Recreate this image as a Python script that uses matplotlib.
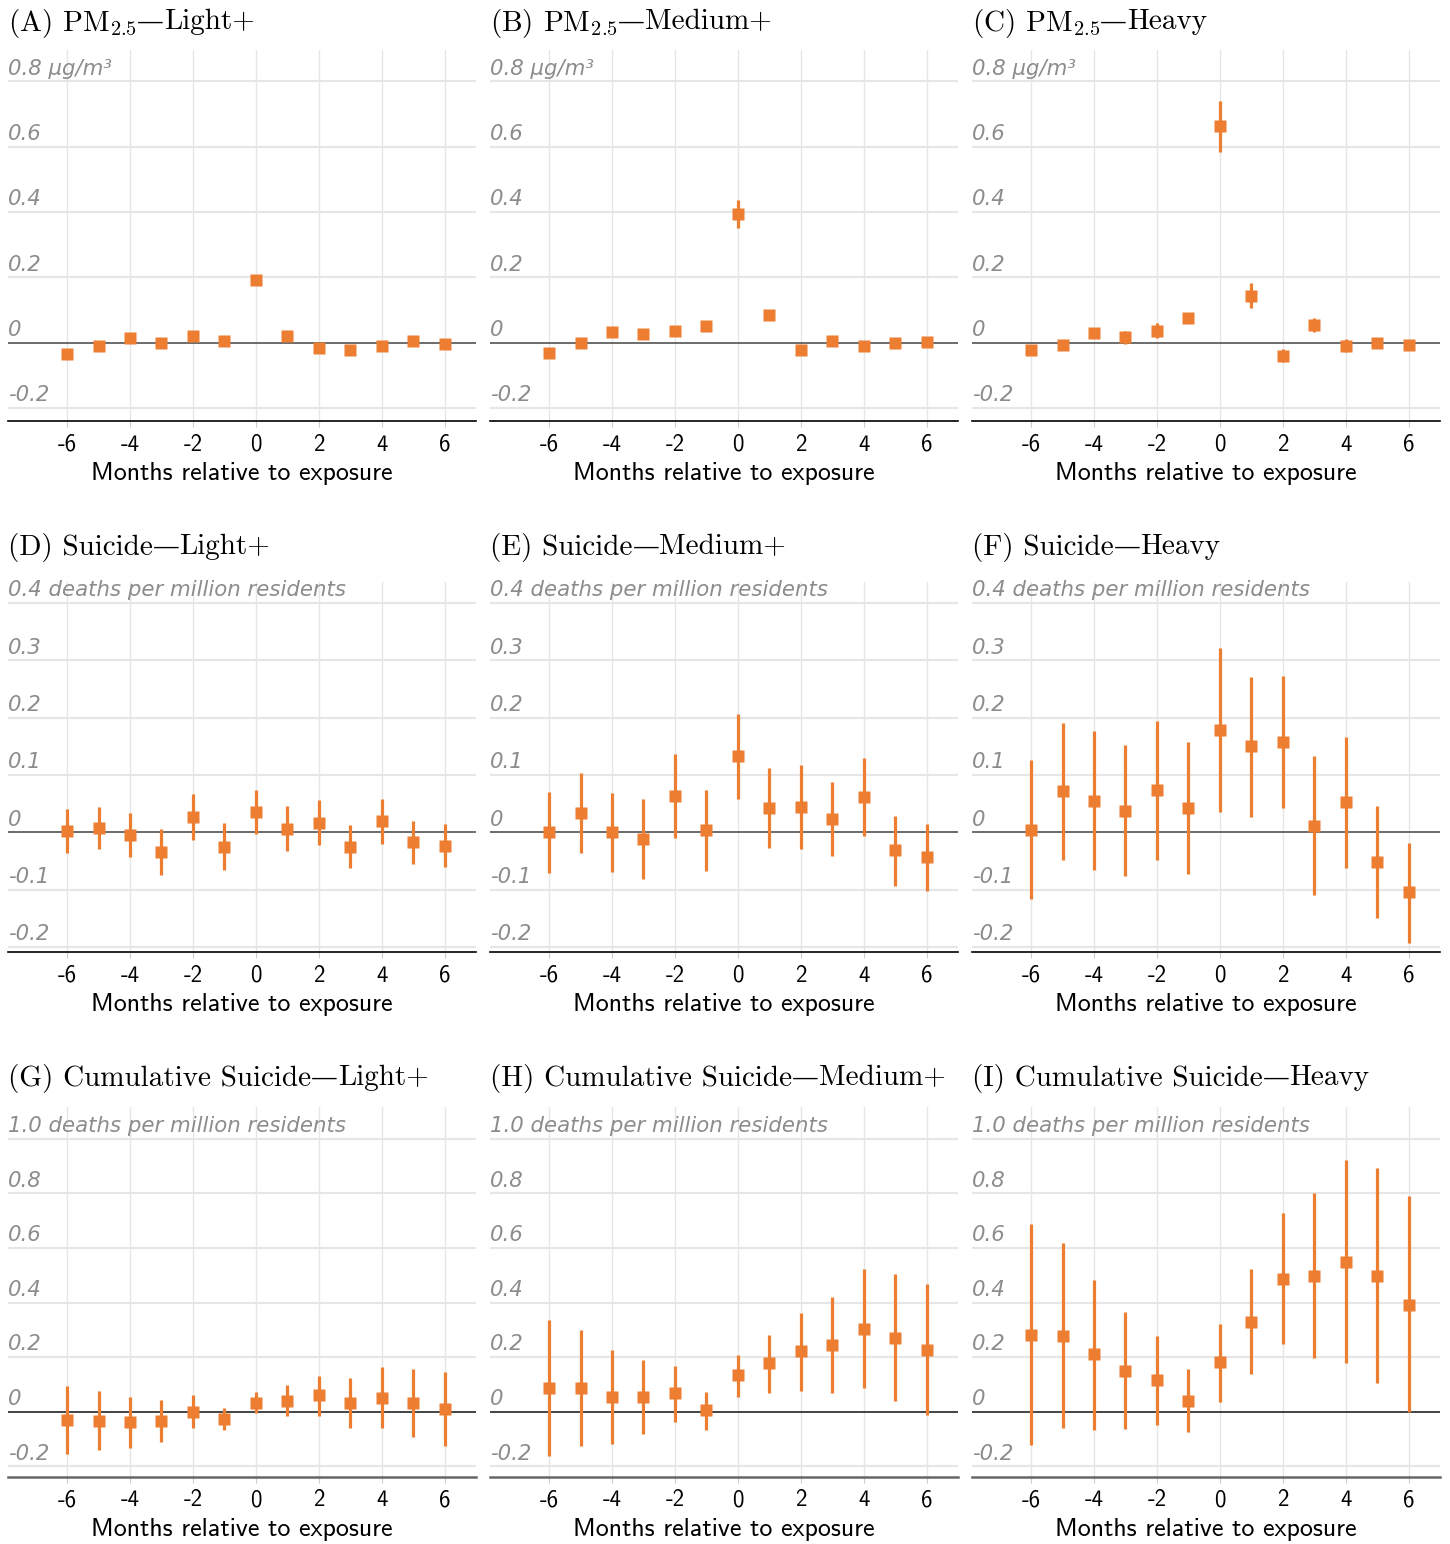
import matplotlib.pyplot as plt
import numpy as np

plt.rcParams['mathtext.fontset'] = 'cm'
plt.rcParams['axes.unicode_minus'] = False

ORANGE = '#ED7D31'
W, H = 1450, 1544

months = np.arange(-6, 7)
xticks = [-6, -4, -2, 0, 2, 4, 6]
xtick_labels = ['-6', '-4', '-2', '0', '2', '4', '6']

# PM2.5 (ug/m3)
pm_light = [-0.035, -0.010, 0.015, 0.000, 0.020, 0.005, 0.192, 0.020, -0.015, -0.022, -0.010, 0.005, -0.003]
pm_light_lo = [-0.043, -0.018, 0.007, -0.009, 0.011, -0.003, 0.181, 0.011, -0.024, -0.031, -0.019, -0.003, -0.011]
pm_light_hi = [-0.027, -0.002, 0.023, 0.009, 0.029, 0.013, 0.203, 0.029, -0.006, -0.013, -0.001, 0.013, 0.005]

pm_medium = [-0.031, -0.002, 0.031, 0.025, 0.036, 0.051, 0.395, 0.086, -0.024, 0.005, -0.010, 0.000, 0.002]
pm_medium_lo = [-0.040, -0.011, 0.022, 0.015, 0.026, 0.041, 0.352, 0.075, -0.034, -0.004, -0.019, -0.008, -0.007]
pm_medium_hi = [-0.022, 0.007, 0.040, 0.035, 0.046, 0.061, 0.436, 0.097, -0.014, 0.014, -0.001, 0.008, 0.011]

pm_heavy = [-0.024, -0.007, 0.028, 0.016, 0.037, 0.075, 0.663, 0.144, -0.041, 0.055, -0.010, 0.000, -0.007]
pm_heavy_lo = [-0.033, -0.016, 0.019, -0.004, 0.013, 0.065, 0.584, 0.105, -0.060, 0.033, -0.030, -0.009, -0.016]
pm_heavy_hi = [-0.015, 0.002, 0.037, 0.036, 0.059, 0.085, 0.741, 0.182, -0.020, 0.076, 0.010, 0.009, 0.002]

# Suicide (deaths per million residents)
su_light = [0.002, 0.008, -0.005, -0.035, 0.027, -0.026, 0.035, 0.006, 0.016, -0.026, 0.020, -0.017, -0.024]
su_light_lo = [-0.036, -0.030, -0.044, -0.075, -0.014, -0.066, -0.003, -0.033, -0.023, -0.063, -0.021, -0.055, -0.060]
su_light_hi = [0.041, 0.044, 0.033, 0.006, 0.067, 0.016, 0.074, 0.046, 0.057, 0.012, 0.059, 0.019, 0.014]

su_medium = [0.001, 0.034, 0.001, -0.012, 0.063, 0.004, 0.133, 0.042, 0.044, 0.023, 0.062, -0.031, -0.044]
su_medium_lo = [-0.071, -0.036, -0.069, -0.082, -0.010, -0.067, 0.059, -0.027, -0.029, -0.042, -0.007, -0.093, -0.103]
su_medium_hi = [0.070, 0.104, 0.069, 0.059, 0.136, 0.074, 0.207, 0.112, 0.117, 0.088, 0.130, 0.029, 0.015]

su_heavy = [0.004, 0.072, 0.055, 0.038, 0.074, 0.042, 0.179, 0.151, 0.158, 0.011, 0.053, -0.052, -0.105]
su_heavy_lo = [-0.116, -0.048, -0.066, -0.076, -0.048, -0.072, 0.035, 0.027, 0.042, -0.110, -0.063, -0.149, -0.193]
su_heavy_hi = [0.126, 0.191, 0.176, 0.153, 0.194, 0.157, 0.322, 0.272, 0.273, 0.133, 0.166, 0.046, -0.018]

# Cumulative suicide
cu_light = [-0.029, -0.032, -0.039, -0.032, 0.001, -0.026, 0.034, 0.041, 0.060, 0.034, 0.052, 0.034, 0.012]
cu_light_lo = [-0.154, -0.141, -0.133, -0.111, -0.060, -0.068, -0.005, -0.017, -0.017, -0.060, -0.061, -0.093, -0.127]
cu_light_hi = [0.095, 0.077, 0.054, 0.044, 0.061, 0.013, 0.073, 0.098, 0.132, 0.123, 0.163, 0.157, 0.145]

cu_medium = [0.089, 0.089, 0.056, 0.056, 0.068, 0.005, 0.134, 0.177, 0.221, 0.243, 0.305, 0.272, 0.228]
cu_medium_lo = [-0.161, -0.124, -0.118, -0.082, -0.038, -0.068, 0.056, 0.068, 0.077, 0.068, 0.087, 0.039, -0.011]
cu_medium_hi = [0.337, 0.300, 0.227, 0.190, 0.168, 0.073, 0.207, 0.282, 0.363, 0.420, 0.522, 0.505, 0.467]

cu_heavy = [0.283, 0.279, 0.210, 0.151, 0.115, 0.041, 0.182, 0.329, 0.487, 0.498, 0.550, 0.498, 0.393]
cu_heavy_lo = [-0.123, -0.061, -0.067, -0.062, -0.048, -0.073, 0.035, 0.138, 0.249, 0.196, 0.177, 0.104, -0.002]
cu_heavy_hi = [0.690, 0.618, 0.483, 0.366, 0.276, 0.156, 0.322, 0.522, 0.727, 0.800, 0.924, 0.895, 0.790]

# titles split around the em dash: (before, after)
titles = [
    [('(A) PM$_{2.5}$', 'Light+'), ('(B) PM$_{2.5}$', 'Medium+'), ('(C) PM$_{2.5}$', 'Heavy')],
    [('(D) Suicide', 'Light+'), ('(E) Suicide', 'Medium+'), ('(F) Suicide', 'Heavy')],
    [('(G) Cumulative Suicide', 'Light+'), ('(H) Cumulative Suicide', 'Medium+'), ('(I) Cumulative Suicide', 'Heavy')],
]
series = [
    [(pm_light, pm_light_lo, pm_light_hi), (pm_medium, pm_medium_lo, pm_medium_hi), (pm_heavy, pm_heavy_lo, pm_heavy_hi)],
    [(su_light, su_light_lo, su_light_hi), (su_medium, su_medium_lo, su_medium_hi), (su_heavy, su_heavy_lo, su_heavy_hi)],
    [(cu_light, cu_light_lo, cu_light_hi), (cu_medium, cu_medium_lo, cu_medium_hi), (cu_heavy, cu_heavy_lo, cu_heavy_hi)],
]
yticks = [
    [-0.2, 0, 0.2, 0.4, 0.6, 0.8],
    [-0.2, -0.1, 0, 0.1, 0.2, 0.3, 0.4],
    [-0.2, 0, 0.2, 0.4, 0.6, 0.8, 1.0],
]
ytick_labels = [
    ['-0.2', '0', '0.2', '0.4', '0.6', '0.8 μg/m³'],
    ['-0.2', '-0.1', '0', '0.1', '0.2', '0.3', '0.4 deaths per million residents'],
    ['-0.2', '0', '0.2', '0.4', '0.6', '0.8', '1.0 deaths per million residents'],
]
ylims = [(-0.240, 0.896), (-0.209, 0.437), (-0.239, 1.117)]

# pixel layout
col_x = [(8, 476), (490, 958), (972, 1440)]
row_y = [(50, 421), (582, 952), (1107, 1477)]
title_y = [19, 544, 1075]
TITLE_SIZE = 21

fig = plt.figure(figsize=(W / 100, H / 100), dpi=100)
renderer = fig.canvas.get_renderer()

for r in range(3):
    for c in range(3):
        x0, x1 = col_x[c]
        y0, y1 = row_y[r]
        ax = fig.add_axes([x0 / W, 1 - y1 / H, (x1 - x0) / W, (y1 - y0) / H])
        est, lo, hi = series[r][c]

        ax.set_xlim(-7.88, 7.0)
        ax.set_ylim(*ylims[r])

        # grid
        for xt in xticks:
            ax.axvline(xt, color='#e6e6e6', lw=1.0, zorder=0)
        for yt in yticks[r]:
            if yt != 0:
                ax.axhline(yt, color='#e6e6e6', lw=1.5, zorder=0)
        ax.axhline(0, color='#444444' if r < 2 else '#111111', lw=1.1, zorder=1)

        ax.vlines(months, lo, hi, color=ORANGE, lw=2.3, zorder=2)
        ax.plot(months, est, 's', color=ORANGE, ms=8.8, mec='none', zorder=3)

        # y labels sit just above their gridlines
        for yt, lab in zip(yticks[r], ytick_labels[r]):
            ax.annotate(lab, xy=(0, yt), xycoords=('axes fraction', 'data'),
                        xytext=(0, 2), textcoords='offset points',
                        ha='left', va='bottom', color='#8c8c8c',
                        fontsize=15.3, style='italic', family='DejaVu Sans')

        for s in ['top', 'right', 'left']:
            ax.spines[s].set_visible(False)
        ax.spines['bottom'].set_color('black' if r < 2 else '#666666')
        ax.spines['bottom'].set_linewidth(1.2 if r < 2 else 1.8)
        ax.set_yticks([])
        ax.set_xticks(xticks)
        ax.set_xticklabels(xtick_labels, family='cmss10', fontsize=16.5)
        ax.tick_params(axis='x', length=4, color='#cccccc', pad=5)
        ax.set_xlabel('Months relative to exposure', family='cmss10', fontsize=18.7, labelpad=5)

        # title in three pieces so the em dash comes from a font that has it
        before, after = titles[r][c]
        ty = 1 - title_y[r] / H
        t1 = fig.text(x0 / W, ty, before, ha='left', va='center_baseline',
                      family='cmr10', fontsize=TITLE_SIZE)
        xe = t1.get_window_extent(renderer).x1
        t2 = fig.text(xe / W, ty, '—', ha='left', va='center_baseline',
                      family='DejaVu Serif', fontsize=TITLE_SIZE * 0.92)
        xe = t2.get_window_extent(renderer).x1
        fig.text(xe / W, ty, after, ha='left', va='center_baseline',
                 family='cmr10', fontsize=TITLE_SIZE)

fig.savefig('out.png', dpi=100)
